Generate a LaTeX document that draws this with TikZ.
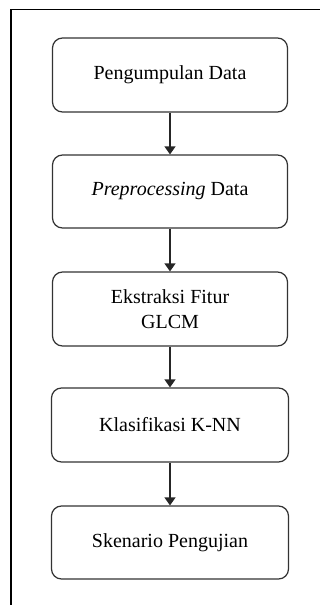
\documentclass[tikz,border=0pt]{standalone}
\usepackage{fontspec}
\setmainfont{Liberation Serif}
\usetikzlibrary{arrows.meta}
\begin{document}
\begin{tikzpicture}[x=1pt,y=-1pt,
  stepbox/.style={draw=black!80, line width=1.2pt, rounded corners=10pt,
    minimum width=235pt, align=center, font=\fontsize{20}{25}\selectfont, inner sep=0pt},
  flow/.style={draw=black!85, line width=1.2pt, -{Triangle[length=8pt,width=11pt]}}]
  \useasboundingbox (0,0) rectangle (320,605);
  % open frame: top and left edges
  \draw[line width=1.6pt] (11,605) -- (11,9.5) -- (320,9.5);
  % process steps
  \node[stepbox, minimum height=74pt] (s1) at (170,75) {Pengumpulan Data};
  \node[stepbox, minimum height=73pt] (s2) at (170,191.5) {\textit{Preprocessing} Data};
  \node[stepbox, minimum height=74pt] (s3) at (170,309) {Ekstraksi Fitur\\GLCM};
  \node[stepbox, minimum height=74pt, minimum width=237pt] (s4) at (170,425) {Klasifikasi K-NN};
  \node[stepbox, minimum height=73pt, minimum width=237pt] (s5) at (170,542.5) {Skenario Pengujian};
  % connectors
  \draw[flow] (s1) -- (s2);
  \draw[flow] (s2) -- (s3);
  \draw[flow] (s3) -- (s4);
  \draw[flow] (s4) -- (s5);
\end{tikzpicture}
\end{document}
